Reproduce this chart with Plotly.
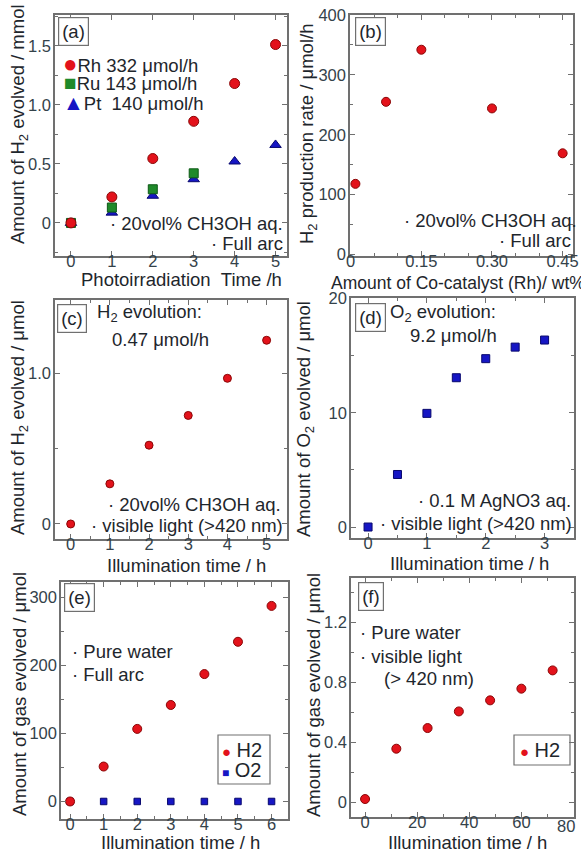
import plotly.graph_objects as go

# ---------------- data ----------------
# (a) H2 evolved vs. photoirradiation time, by co-catalyst (mmol)
time_a = [0, 1, 2, 3, 4, 5]
rh_h2 = [0.0, 0.22, 0.545, 0.86, 1.18, 1.51]
ru_time = [0, 1, 2, 3]
ru_h2 = [0.0, 0.13, 0.285, 0.42]
pt_h2 = [0.0, 0.087, 0.23, 0.37, 0.52, 0.66]

# (b) H2 production rate vs. Rh loading
rh_loading = [0.01, 0.075, 0.15, 0.30, 0.45]
h2_rate = [118, 255, 342, 244, 169]

# (c) H2 under visible light (umol)
time_c = [0, 1, 2, 3, 4, 5]
h2_vis = [0.0, 0.267, 0.524, 0.722, 0.969, 1.222]

# (d) O2 under visible light, AgNO3 (umol)
time_d = [0, 0.5, 1.0, 1.5, 2.0, 2.5, 3.0]
o2_vis = [0.0, 4.6, 9.95, 13.07, 14.74, 15.75, 16.37]

# (e) pure water, full arc (umol)
time_e = [0, 1, 2, 3, 4, 5, 6]
h2_full = [0, 51.4, 106.8, 142, 187.5, 235, 287.8]
o2_full = [0, 0, 0, 0, 0, 0, 0]

# (f) pure water, visible light (umol)
time_f = [0, 12, 24, 36, 48, 60, 72]
h2_water_vis = [0.02, 0.356, 0.494, 0.605, 0.679, 0.757, 0.879]

# tick labels
a_xt = [0, 1, 2, 3, 4, 5]
a_yt, a_ytxt = [0, 0.5, 1.0, 1.5], ["0", "0.5", "1.0", "1.5"]
b_xt, b_xtxt = [0, 0.15, 0.30, 0.45], ["0", "0.15", "0.30", "0.45"]
b_yt = [0, 100, 200, 300, 400]
c_xt = [0, 1, 2, 3, 4, 5]
c_yt, c_ytxt = [0, 1.0], ["0", "1.0"]
d_xt = [0, 1, 2, 3]
d_yt = [0, 10, 20]
e_xt = [0, 1, 2, 3, 4, 5, 6]
e_yt = [0, 100, 200, 300]
f_xt = [0, 20, 40, 60, 80]
f_xtxt = ["0", "20", "40", "60", ""]   # the 80 label sits against the right edge
f_last_tick = 80
f_yt, f_ytxt = [0, 0.4, 0.8, 1.2], ["0", "0.4", "0.8", "1.2"]

# ---------------- styling ----------------
W, H = 581, 851
FONT = "Liberation Sans, Arial, sans-serif"
TXT = "#1e262c"
TICKTXT = "#34424a"
FRAME = "#707070"
RED, RED_EDGE = "#e3121b", "#8a0606"
GREEN, GREEN_EDGE = "#1f8a2a", "#0d5a16"
BLUE, BLUE_EDGE = "#1616c4", "#08086e"
NB = "\u00a0"


def px(x):
    return x / W


def py(y):
    return 1 - y / H


fig = go.Figure()


def red_marker(size):
    return dict(symbol="circle", size=size, color=RED, line=dict(color=RED_EDGE, width=1))


def blue_square(size):
    return dict(symbol="square", size=size, color=BLUE, line=dict(color=BLUE_EDGE, width=1))


# (a)
fig.add_trace(go.Scatter(x=time_a, y=pt_h2, mode="markers", xaxis="x", yaxis="y",
                         marker=dict(symbol="triangle-up", size=10, color=BLUE,
                                     line=dict(color=BLUE_EDGE, width=1))))
fig.add_trace(go.Scatter(x=ru_time, y=ru_h2, mode="markers", xaxis="x", yaxis="y",
                         marker=dict(symbol="square", size=9, color=GREEN,
                                     line=dict(color=GREEN_EDGE, width=1))))
fig.add_trace(go.Scatter(x=time_a, y=rh_h2, mode="markers", xaxis="x", yaxis="y",
                         marker=red_marker(10)))
# (b)
fig.add_trace(go.Scatter(x=rh_loading, y=h2_rate, mode="markers", xaxis="x2", yaxis="y2",
                         marker=red_marker(9)))
# (c)
fig.add_trace(go.Scatter(x=time_c, y=h2_vis, mode="markers", xaxis="x3", yaxis="y3",
                         marker=red_marker(8)))
# (d)
fig.add_trace(go.Scatter(x=time_d, y=o2_vis, mode="markers", xaxis="x4", yaxis="y4",
                         marker=blue_square(8)))
# (e)
fig.add_trace(go.Scatter(x=time_e, y=o2_full, mode="markers", xaxis="x5", yaxis="y5",
                         marker=blue_square(6.5)))
fig.add_trace(go.Scatter(x=time_e, y=h2_full, mode="markers", xaxis="x5", yaxis="y5",
                         marker=red_marker(9)))
# (f)
fig.add_trace(go.Scatter(x=time_f, y=h2_water_vis, mode="markers", xaxis="x6", yaxis="y6",
                         marker=red_marker(9)))


def axis(domain, rng, tickvals, ticktext, minor_dtick, anchor, horizontal):
    d = (px(domain[0]), px(domain[1])) if horizontal else (py(domain[1]), py(domain[0]))
    ax = dict(
        domain=list(d), range=rng, anchor=anchor, autorange=False, automargin=False,
        showline=True, linecolor=FRAME, linewidth=1.5, mirror="ticks",
        ticks="inside", ticklen=5, tickwidth=1.2, tickcolor=FRAME,
        tickmode="array", tickvals=tickvals,
        ticktext=ticktext if ticktext is not None else [str(v) for v in tickvals],
        tickfont=dict(family=FONT, size=16.5, color=TICKTXT),
        ticklabelstandoff=-11 if horizontal else -1,
        ticklabeloverflow="allow",
        showgrid=False, zeroline=False,
    )
    if minor_dtick:
        ax["minor"] = dict(ticks="inside", ticklen=3, tickwidth=1, tickcolor=FRAME,
                           dtick=minor_dtick, tick0=0, showgrid=False)
    return ax


panels = {
    "a": dict(x=(55, 287), y=(15, 256)),
    "b": dict(x=(350, 573), y=(15, 256)),
    "c": dict(x=(55, 287), y=(300, 539)),
    "d": dict(x=(351, 574), y=(298, 538)),
    "e": dict(x=(61, 288), y=(582, 819)),
    "f": dict(x=(351, 574), y=(578, 817)),
}

fig.update_layout(
    xaxis=axis(panels["a"]["x"], [-0.39, 5.28], a_xt, None, None, "y", True),
    yaxis=axis(panels["a"]["y"], [-0.28, 1.76], a_yt, a_ytxt, 0.25, "x", False),
    xaxis2=axis(panels["b"]["x"], [-0.0015, 0.472], b_xt, b_xtxt, 0.05, "y2", True),
    yaxis2=axis(panels["b"]["y"], [-2.5, 400], b_yt, None, 50, "x2", False),
    xaxis3=axis(panels["c"]["x"], [-0.4, 5.52], c_xt, None, 0.5, "y3", True),
    yaxis3=axis(panels["c"]["y"], [-0.1, 1.49], c_yt, c_ytxt, 0.5, "x3", False),
    xaxis4=axis(panels["d"]["x"], [-0.29, 3.5], d_xt, None, 0.5, "y4", True),
    yaxis4=axis(panels["d"]["y"], [-0.96, 20.05], d_yt, None, 5, "x4", False),
    xaxis5=axis(panels["e"]["x"], [-0.27, 6.49], e_xt, None, 0.5, "y5", True),
    yaxis5=axis(panels["e"]["y"], [-25.8, 323], e_yt, None, 50, "x5", False),
    xaxis6=axis(panels["f"]["x"], [-5.4, 80.2], f_xt, f_xtxt, 10, "y6", True),
    yaxis6=axis(panels["f"]["y"], [-0.1, 1.496], f_yt, f_ytxt, 0.2, "x6", False),
)

annotations = []
shapes = []


def note(text, x, y, xanchor="left", size=18.5, **kw):
    annotations.append(dict(text=text, x=px(x), y=py(y), xref="paper", yref="paper",
                            xanchor=xanchor, yanchor="middle", showarrow=False,
                            font=dict(family=FONT, size=size, color=TXT), **kw))


def xtitle(text, x, y, size=18.5):
    note(text, x, y, xanchor="center", size=size)


def ytitle(text, x, y):
    note(text, x, y, xanchor="center", size=18.5, textangle=-90)


def tag(label, cx, cy):
    note(label, cx, cy, xanchor="center", size=18.5, bordercolor=FRAME, borderwidth=1.2,
         borderpad=3, bgcolor="white")


def glyph(sym, color, size=21):
    return f'<span style="color:{color};font-size:{size}px">{sym}</span>'


# axis titles
xtitle(f"Photoirradiation{NB}{NB}Time /h", 181, 279)
ytitle("Amount of H<sub>2</sub> evolved / mmol", 19, 124)
xtitle("Amount of Co-catalyst (Rh)/ wt%", 458, 283, size=17.5)
ytitle("H<sub>2</sub> production rate / μmol/h", 308, 134)
xtitle("Illumination time / h", 186, 565)
ytitle("Amount of H<sub>2</sub> evolved / μmol", 19, 418)
xtitle("Illumination time / h", 469, 563)
ytitle("Amount of O<sub>2</sub> evolved / μmol", 305, 419)
xtitle("Illumination time / h", 180, 842)
ytitle("Amount of gas evolved / μmol", 19, 694)
xtitle("Illumination time / h", 467, 842)
ytitle("Amount of gas evolved / μmol", 313, 695)

# last tick label of (f), pulled in from the page edge
annotations.append(dict(text=str(f_last_tick), x=f_last_tick, xref="x6", xshift=-7,
                        y=py(826), yref="paper", xanchor="center", yanchor="middle",
                        showarrow=False, font=dict(family=FONT, size=16.5, color=TICKTXT)))

# (a)
tag("(a)", 73, 32)
note(glyph("●", RED, 24) + "Rh 332 μmol/h", 61, 63)
note(glyph("■", GREEN, 21) + "Ru 143 μmol/h", 62, 82)
note(glyph("▲", BLUE, 21) + f"Pt{NB} 140 μmol/h", 61, 102)
note("· 20vol% CH3OH aq.", 285, 223, xanchor="right")
note("· Full arc", 285, 244, xanchor="right")
# (b)
tag("(b)", 371, 32)
note("· 20vol% CH3OH aq.", 579, 221, xanchor="right")
note("· Full arc", 573, 240, xanchor="right")
# (c)
tag("(c)", 72, 318)
note("H<sub>2</sub> evolution:", 95, 313)
note("0.47 μmol/h", 110, 339)
note("· 20vol% CH3OH aq.", 283, 504, xanchor="right")
note("· visible light (>420 nm)", 285, 525, xanchor="right")
# (d)
tag("(d)", 371, 317)
note("O<sub>2</sub> evolution:", 388, 313)
note("9.2 μmol/h", 408, 336)
note("· 0.1 M AgNO3 aq.", 573, 500, xanchor="right")
note("· visible light (>420 nm)", 574, 523, xanchor="right")
# (e)
tag("(e)", 80, 597)
note("· Pure water", 70, 651)
note("· Full arc", 70, 674)
shapes.append(dict(type="rect", xref="paper", yref="paper", x0=px(218), x1=px(270),
                   y0=py(784), y1=py(735), line=dict(color=FRAME, width=1.2),
                   fillcolor="white", layer="below"))
note(glyph("●", RED, 15) + " H2", 220, 750, size=20)
note(glyph("■", BLUE, 12) + " O2", 220, 770, size=20)
# (f)
tag("(f)", 371, 596)
note("· Pure water", 358, 632)
note("· visible light", 358, 656)
note("(> 420 nm)", 382, 678)
shapes.append(dict(type="rect", xref="paper", yref="paper", x0=px(514), x1=px(570),
                   y0=py(765), y1=py(735), line=dict(color=FRAME, width=1.2),
                   fillcolor="white", layer="below"))
note(glyph("●", RED, 15) + " H2", 518, 750, size=20)

fig.update_layout(
    width=W, height=H, margin=dict(l=0, r=0, t=0, b=0, autoexpand=False),
    paper_bgcolor="white", plot_bgcolor="white",
    showlegend=False, annotations=annotations, shapes=shapes,
    font=dict(family=FONT, color=TXT),
)

fig.write_html("out.html")
